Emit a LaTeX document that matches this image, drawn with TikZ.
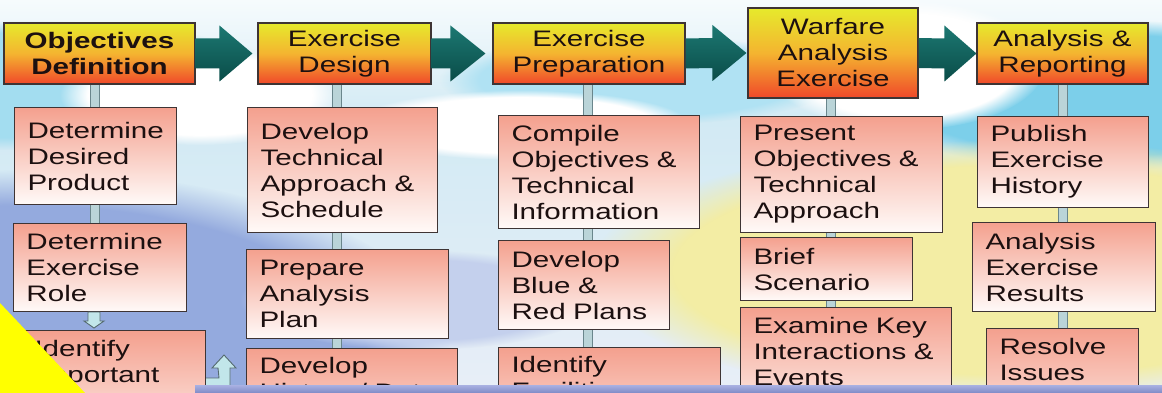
\documentclass[tikz,border=0pt]{standalone}
\usepackage{fontspec}
\setmainfont{Liberation Sans}[FakeStretch=1.32]
\usetikzlibrary{calc,fadings}
\definecolor{hdtop}{HTML}{E6EA2C}
\definecolor{hdmid}{HTML}{F4B430}
\definecolor{hdbot}{HTML}{F0482A}
\definecolor{subtop}{HTML}{F4A08E}
\definecolor{subbot}{HTML}{FFFAF8}
\definecolor{edge}{HTML}{3E3434}
\definecolor{txt}{HTML}{1C1010}
\definecolor{arrtop}{HTML}{1C7872}
\definecolor{arrbot}{HTML}{0A4C48}
\definecolor{barfill}{HTML}{BAD4D8}
\definecolor{barline}{HTML}{6A868C}
\definecolor{hollowfill}{HTML}{C2E6EA}
\definecolor{skytop}{HTML}{F6FBFD}
\definecolor{skymid}{HTML}{D2EAF4}
\definecolor{skylow}{HTML}{E8EEF7}
\definecolor{skycyan}{HTML}{7CCFEA}
\definecolor{seablue}{HTML}{94AADE}
\definecolor{sand}{HTML}{F3EDA4}
\definecolor{stripetop}{HTML}{A9B1E2}
\definecolor{stripebot}{HTML}{7F8AC6}
\definecolor{flag}{HTML}{FFFF00}
\pgfdeclarelayer{sky}
\pgfdeclarelayer{bars}
\pgfdeclarelayer{front}
\pgfsetlayers{sky,bars,main,front}
\tikzset{
  head/.style={draw=edge, line width=1.1pt, rectangle, align=center, inner sep=0pt,
    top color=hdtop, bottom color=hdbot, middle color=hdmid, text=txt},
  sub/.style={draw=edge, line width=1pt, rectangle, anchor=north west, align=left,
    inner xsep=13pt, inner ysep=9pt, top color=subtop, bottom color=subbot, text=txt},
  cut/.style={text depth=90pt},
  bigarr/.style={top color=arrtop, bottom color=arrbot, draw=none},
  colbar/.style={draw=barline, line width=0.9pt, double=barfill, double distance=8pt},
  hollow/.style={draw=barline!80!black, line width=0.9pt, fill=hollowfill, line join=miter},
  cloud/.style={path fading=circle with fuzzy edge 20 percent}
}
\begin{document}
\begin{tikzpicture}[x=1pt,y=-1pt,font=\fontsize{22.4}{26}\selectfont]
\useasboundingbox (0,0) rectangle (1162,393);

% ---------------- background scene
\begin{pgfonlayer}{sky}
  \shade[top color=skytop, bottom color=skymid] (0,0) rectangle (1162,120);
  \shade[top color=skymid, bottom color=skylow] (0,120) rectangle (1162,393);
  \fill[skycyan, cloud] (1110,95) ellipse [x radius=260pt, y radius=75pt];
  \fill[skycyan!70, cloud] (20,85) ellipse [x radius=280pt, y radius=65pt];
  \fill[skycyan!60, cloud] (640,80) ellipse [x radius=200pt, y radius=45pt];
  \fill[white, cloud] (200,95) ellipse [x radius=140pt, y radius=50pt];
  \fill[white, cloud] (905,65) ellipse [x radius=140pt, y radius=65pt];
  \fill[white, cloud] (520,125) ellipse [x radius=170pt, y radius=35pt];
  \fill[seablue, cloud] (20,350) ellipse [x radius=430pt, y radius=180pt];
  \fill[seablue!55, cloud] (420,300) ellipse [x radius=180pt, y radius=50pt];
  \fill[sand, cloud] (1010,270) ellipse [x radius=420pt, y radius=130pt];
\end{pgfonlayer}

% ---------------- phase headers
\node[head, minimum width=191pt, minimum height=61pt] (h1) at (99.5,53.5) {\bfseries Objectives\\\bfseries Definition};
\node[head, minimum width=173pt, minimum height=61pt] (h2) at (344.5,53.5) {Exercise\\Design};
\node[head, minimum width=192pt, minimum height=61pt] (h3) at (589,53.5) {Exercise\\Preparation};
\node[head, minimum width=170pt, minimum height=90pt] (h4) at (833,53) {Warfare\\Analysis\\Exercise};
\node[head, minimum width=171pt, minimum height=61pt] (h5) at (1062.5,53.5) {Analysis \&\\Reporting};

% ---------------- column 1
\node[sub, text width=136pt, minimum height=97pt] (b11) at (14,107) {Determine\\Desired\\Product};
\node[sub, text width=147pt, minimum height=88pt] (b12) at (13,223) {Determine\\Exercise\\Role};
\node[sub, cut, text width=158pt, inner ysep=10pt] (b13) at (21,330) {Identify\\Important};
% ---------------- column 2
\node[sub, text width=164pt, minimum height=125pt] (b21) at (247,107) {Develop\\Technical\\Approach \&\\Schedule};
\node[sub, text width=176pt, minimum height=89pt] (b22) at (246,249) {Prepare\\Analysis\\Plan};
\node[sub, cut, text width=185pt] (b23) at (246,348) {Develop\\History / Data};
% ---------------- column 3
\node[sub, text width=175pt, minimum height=113pt] (b31) at (498,115) {Compile\\Objectives \&\\Technical\\Information};
\node[sub, text width=145pt, minimum height=89pt] (b32) at (498,240) {Develop\\Blue \&\\Red Plans};
\node[sub, cut, text width=196pt] (b33) at (498,347) {Identify\\Facilities};
% ---------------- column 4
\node[sub, text width=176pt, minimum height=113pt] (b41) at (740,116) {Present\\Objectives \&\\Technical\\Approach};
\node[sub, text width=146pt, minimum height=63pt] (b42) at (740,237) {Brief\\Scenario};
\node[sub, cut, text width=185pt, inner ysep=10pt] (b43) at (740,307) {Examine Key\\Interactions \&\\Events};
% ---------------- column 5
\node[sub, text width=145pt, minimum height=87pt] (b51) at (977,116) {Publish\\Exercise\\History};
\node[sub, text width=157pt, minimum height=89pt] (b52) at (972,222) {Analysis\\Exercise\\Results};
\node[sub, cut, text width=126pt, inner ysep=10pt] (b53) at (986,328) {Resolve\\Issues};

% ---------------- column spines
\coordinate (c1) at (95,0);
\coordinate (c2) at (337,0);
\coordinate (c3) at (588,0);
\coordinate (c4) at (831,0);
\coordinate (c5) at (1063,0);
\begin{pgfonlayer}{bars}
  \foreach \c/\h/\e in {c1/h1/b12, c2/h2/b23, c3/h3/b33, c4/h4/b43, c5/h5/b53}{
    \draw[colbar] (\c |- \h.south) -- (\c |- \e.north);
  }
\end{pgfonlayer}

% ---------------- flow arrows between phases
\foreach \a/\b/\g/\hl in {h1/h2/5/33, h2/h3/7/35, h3/h4/1/34, h4/h5/0/32}{
  \path[bigarr] ($(\a.east)+(0,-15)$) -- ($(\b.west)+(-\g-\hl,-15)$) -- ($(\b.west)+(-\g-\hl,-28)$)
     -- ($(\b.west)+(-\g,0)$) -- ($(\b.west)+(-\g-\hl,28)$) -- ($(\b.west)+(-\g-\hl,15)$)
     -- ($(\a.east)+(0,15)$) -- cycle;
}

% ---------------- small hollow arrows
\coordinate (d1) at (b12.south -| 94,0);
\coordinate (d2) at (b13.north -| 94,0);
\draw[hollow] ($(d1)+(-6,0)$) -- ($(d1)+(6,0)$) -- ($(d1)+(6,9)$) -- ($(d1)+(10,9)$)
   -- ($(d2)+(0,-2)$) -- ($(d1)+(-10,9)$) -- ($(d1)+(-6,9)$) -- cycle;
\coordinate (la) at ($(b13.north east)+(0,48)$);
\coordinate (lt) at (224,355);
\draw[hollow] (la) -- ($(la)+(13,0)$) -- ($(lt)+(-6,13)$) -- ($(lt)+(-12,13)$) -- (lt)
   -- ($(lt)+(12,13)$) -- ($(lt)+(6,13)$) -- ($(lt)+(6,45)$) -- ($(la)+(0,20)$);

% ---------------- overlays at the bottom edge
\begin{pgfonlayer}{front}
  \shade[top color=stripetop, bottom color=stripebot] (195,385) rectangle (1162,393);
  \fill[flag] (0,303) -- (85,393) -- (0,393) -- cycle;
\end{pgfonlayer}
\end{tikzpicture}
\end{document}
